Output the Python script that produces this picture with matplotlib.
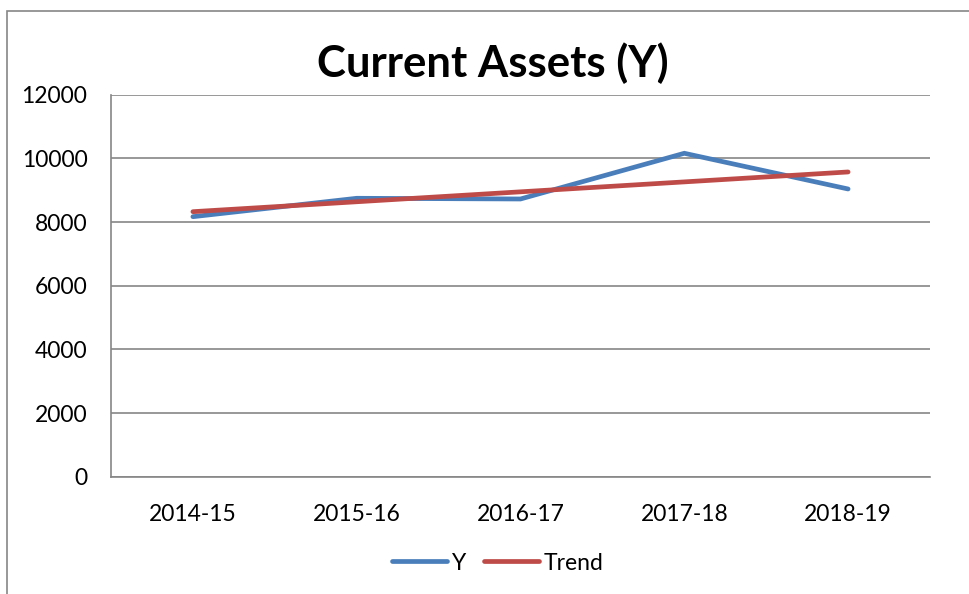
import matplotlib
matplotlib.use("Agg")
import matplotlib.pyplot as plt
from matplotlib.patches import Rectangle

categories = ["2014-15", "2015-16", "2016-17", "2017-18", "2018-19"]
y_values = [8168, 8746, 8724, 10160, 9038]
trend_values = [8325, 8637, 8949, 9261, 9573]
y_ticks = [0, 2000, 4000, 6000, 8000, 10000, 12000]

plt.rcParams['font.family'] = ['Lato', 'DejaVu Sans']

fig = plt.figure(figsize=(9.70, 5.94), dpi=100)
fig.patch.set_facecolor("white")

# outer chart frame (cropped on right and bottom)
fig.add_artist(Rectangle((7/970, -0.05), 1.2, (594-10.5)/594 + 0.05,
                         transform=fig.transFigure, fill=False,
                         edgecolor="#868686", linewidth=1.2))

W, H = 970, 594
left, right, top, bottom = 111, 930, 94.7, 476.7
ax = fig.add_axes([left/W, 1-bottom/H, (right-left)/W, (bottom-top)/H])

x = list(range(len(categories)))
ax.plot(x, y_values, color="#4A7EBB", linewidth=3.4, solid_capstyle="round",
        solid_joinstyle="miter", label="Y", zorder=3)
ax.plot(x, trend_values, color="#BE4B48", linewidth=3.4, solid_capstyle="round",
        label="Trend", zorder=4)

ax.set_xlim(-0.5, len(categories)-0.5)
ax.set_ylim(0, 12000)
ax.set_yticks(y_ticks)
ax.set_yticklabels([str(v) for v in y_ticks])
ax.set_xticks(x)
ax.set_xticklabels(categories)
ax.tick_params(axis="both", length=0, labelsize=16.5, colors="black")
ax.tick_params(axis="y", pad=17)
ax.tick_params(axis="x", pad=20)
ax.grid(axis="y", color="#868686", linewidth=1.2)
ax.set_axisbelow(True)
for s in ["top", "right"]:
    ax.spines[s].set_visible(False)
for s in ["left", "bottom"]:
    ax.spines[s].set_color("#868686")
    ax.spines[s].set_linewidth(1.2)

fig.text(493/W, 1-63/H, "Current Assets (Y)", ha="center", va="center",
         fontsize=31.5, fontweight="bold")

leg = fig.legend(loc="center", bbox_to_anchor=(498/W, 1-563/H), ncol=2,
                 frameon=False, fontsize=16.5, handlelength=2.4,
                 handletextpad=0.2, columnspacing=0.8)

fig.savefig("out.png", dpi=100, facecolor="white")
